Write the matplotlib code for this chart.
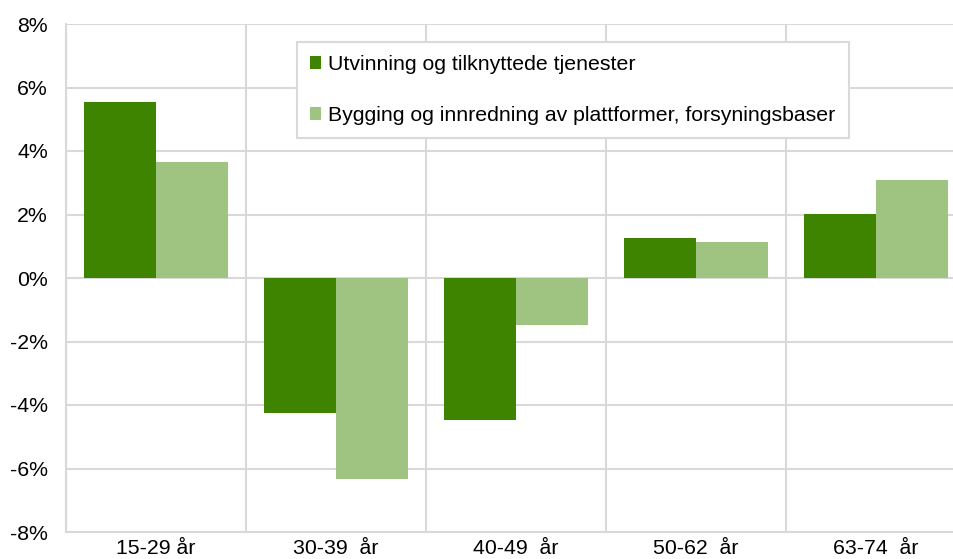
import matplotlib
matplotlib.use('Agg')
import matplotlib.pyplot as plt
from matplotlib.ticker import FuncFormatter
import numpy as np

# Data
categories = ["15-29 år", "30-39  år", "40-49  år", "50-62  år", "63-74  år"]
utvinning = [5.54, -4.26, -4.48, 1.26, 2.02]
bygging = [3.65, -6.33, -1.48, 1.13, 3.09]
series_labels = ["Utvinning og tilknyttede tjenester",
                 "Bygging og innredning av plattformer, forsyningsbaser"]
dark_green = "#3f8400"
light_green = "#9fc482"
grid_color = "#d9d9d9"

plt.rcParams['font.family'] = ['Liberation Sans', 'DejaVu Sans']
FS = 15.3

fig = plt.figure(figsize=(9.54, 5.59), dpi=100)
ax = fig.add_axes([66 / 954, 1 - 532 / 559, 900 / 954, 508 / 559])

x = np.arange(len(categories))
w = 0.4
ax.bar(x - w / 2, utvinning, width=w, color=dark_green, label=series_labels[0], zorder=3)
ax.bar(x + w / 2, bygging, width=w, color=light_green, label=series_labels[1], zorder=3)

ax.set_xlim(-0.5, len(categories) - 0.5)
ax.set_ylim(-8, 8)
ax.set_yticks(np.arange(-8, 9, 2))
ax.yaxis.set_major_formatter(FuncFormatter(lambda v, p: f"{v:.0f}%"))
ax.set_xticks(x)
ax.set_xticklabels(categories)
ax.set_xticks(np.arange(-0.5, len(categories), 1), minor=True)

ax.grid(True, axis='y', which='major', color=grid_color, linewidth=1.5, zorder=0)
ax.grid(True, axis='x', which='minor', color=grid_color, linewidth=1.5, zorder=0)
ax.tick_params(axis='both', which='both', length=0, labelsize=FS, colors='black')
ax.tick_params(axis='y', pad=13)
ax.tick_params(axis='x', pad=5)
for s in ['top', 'right']:
    ax.spines[s].set_visible(False)
for s in ['left', 'bottom']:
    ax.spines[s].set_color(grid_color)
    ax.spines[s].set_linewidth(1.5)

leg = fig.legend(loc='upper left', bbox_to_anchor=(297 / 954, 1 - 42 / 559),
                 fontsize=FS, frameon=True, fancybox=False, handlelength=0.52,
                 handleheight=0.52, handletextpad=0.33, labelspacing=1.5,
                 borderpad=0.62, borderaxespad=0)
leg.get_frame().set_edgecolor(grid_color)
leg.get_frame().set_linewidth(1.5)
leg.get_frame().set_alpha(1)

fig.savefig("out.png", dpi=100)
